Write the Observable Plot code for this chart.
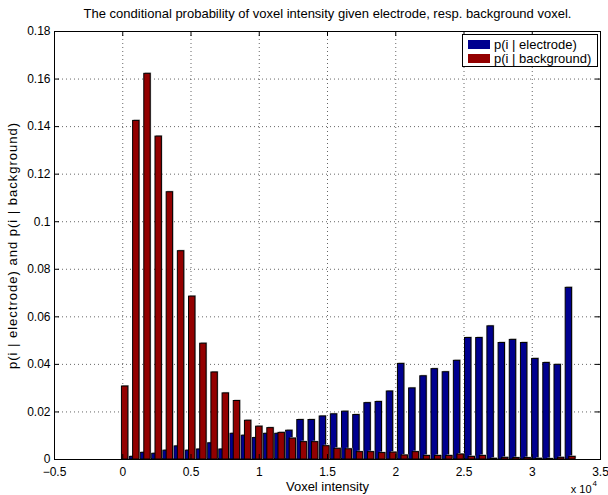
<!DOCTYPE html>
<html>
<head>
<meta charset="utf-8">
<script src="https://cdn.jsdelivr.net/npm/d3@7"></script>
<script src="https://cdn.jsdelivr.net/npm/@observablehq/plot@0.6"></script>
<style>
  body { margin: 0; background: #fff; }
  #fig { position: relative; width: 608px; height: 495px; font-family: "Liberation Sans", Arial, Helvetica, sans-serif; }
  .legend { position: absolute; left: 462px; top: 34px; width: 134px; height: 31px; border: 1px solid #000; background: #fff; font-size: 13px; color: #000; }
  .legend .row { position: absolute; left: 5px; height: 13px; display: flex; align-items: center; white-space: nowrap; }
  .legend .sw { width: 22px; height: 9px; margin-right: 4px; }
</style>
</head>
<body>
<div id="fig"></div>
<script>
// Histogram bin centres (voxel intensity)
const bins = [0, 819, 1638, 2458, 3277, 4096, 4915, 5734, 6554, 7373, 8192, 9011, 9830, 10650,
  11469, 12288, 13107, 13926, 14746, 15565, 16384, 17203, 18022, 18842, 19661, 20480, 21299,
  22118, 22938, 23757, 24576, 25395, 26214, 27034, 27853, 28672, 29491, 30310, 31130, 31949, 32768];

// p(i | electrode)
const electrode = [0, 0.0011, 0.0028, 0.0024, 0.0037, 0.0055, 0.0037, 0.0042, 0.0068, 0.0042,
  0.0108, 0.0100, 0.0090, 0.0108, 0.0108, 0.0121, 0.0166, 0.0166, 0.0181, 0.0190, 0.0201,
  0.0187, 0.0237, 0.0242, 0.0286, 0.0402, 0.0299, 0.0350, 0.0380, 0.0367, 0.0415, 0.0511,
  0.0511, 0.0560, 0.0490, 0.0503, 0.0490, 0.0423, 0.0406, 0.0398, 0.0722];

// p(i | background)
const background = [0.0307, 0.1424, 0.1622, 0.1358, 0.1124, 0.0876, 0.0685, 0.0487, 0.0366,
  0.0278, 0.0246, 0.0163, 0.0138, 0.0132, 0.0112, 0.0088, 0.0073, 0.0073, 0.0056, 0.0045,
  0.0043, 0.0031, 0.0031, 0.0027, 0.0029, 0.0017, 0.0031, 0.0015, 0.0015, 0.0015, 0.0021,
  0.0011, 0.0015, 0.0003, 0.0007, 0.0006, 0.0006, 0.0003, 0.0002, 0.0007, 0.0011];

const xTicks = [-5000, 0, 5000, 10000, 15000, 20000, 25000, 30000, 35000];
const yTicks = [0, 0.02, 0.04, 0.06, 0.08, 0.1, 0.12, 0.14, 0.16, 0.18];

const seriesNames = ["p(i | electrode)", "p(i | background)"];
const seriesColors = ["#00008f", "#930000"];

const titleText = "The conditional probability of voxel intensity given electrode, resp. background voxel.";
const xLabel = "Voxel intensity";
const yLabel = "p(i | electrode) and p(i | background)";

// Rows for the two bar series; the background bars sit slightly right of the electrode bars
const elecRows = bins.map((b, i) => ({x1: b - 320, x2: b + 150, p: electrode[i]}));
const bgRows = bins.map((b, i) => ({x1: b - 60, x2: b + 410, p: background[i]}));

const innerW = 608 - 54 - 8;
const innerH = 495 - 31 - 36;
const tickLen = 5;
const font = "Liberation Sans, Arial, Helvetica, sans-serif";

const fmtX = d => String(d / 1e4).replace("-", "\u2212");
const fmtY = d => String(+d.toFixed(2));

const barShadow = (rows) => Plot.rect(rows, {
  x1: "x1", x2: "x2", y1: 0, y2: "p", fill: "#b4b4b4", dx: 1, dy: -1,
  filter: d => d.p > 0
});
const bars = (rows, color) => Plot.rect(rows, {
  x1: "x1", x2: "x2", y1: 0, y2: "p", fill: color, stroke: "#000", strokeWidth: 1,
  filter: d => d.p > 0
});

const chart = Plot.plot({
  width: 608,
  height: 495,
  marginLeft: 54,
  marginRight: 8,
  marginTop: 31,
  marginBottom: 36,
  style: {fontFamily: font, fontSize: "12px", background: "#fff", color: "#000", overflow: "visible"},
  x: {domain: [-5000, 35000], ticks: xTicks, tickFormat: fmtX, tickSize: 0, tickPadding: 8, label: null},
  y: {domain: [0, 0.18], ticks: yTicks, tickFormat: fmtY, tickSize: 0, tickPadding: 4, label: null},
  marks: [
    // dotted grid
    Plot.ruleX(xTicks, {x: d => d, stroke: "#000", strokeOpacity: 0.6, strokeDasharray: "1,3"}),
    Plot.ruleY(yTicks, {y: d => d, stroke: "#000", strokeOpacity: 0.6, strokeDasharray: "1,3"}),
    // bars
    barShadow(elecRows),
    bars(elecRows, seriesColors[0]),
    barShadow(bgRows),
    bars(bgRows, seriesColors[1]),
    // inward ticks on all four sides
    Plot.tickX(xTicks, {x: d => d, insetTop: innerH - tickLen, stroke: "#000"}),
    Plot.tickX(xTicks, {x: d => d, insetBottom: innerH - tickLen, stroke: "#000"}),
    Plot.tickY(yTicks, {y: d => d, insetRight: innerW - tickLen, stroke: "#000"}),
    Plot.tickY(yTicks, {y: d => d, insetLeft: innerW - tickLen, stroke: "#000"}),
    Plot.frame({stroke: "#000", strokeWidth: 1}),
    // labels
    Plot.text([titleText], {frameAnchor: "top", lineAnchor: "middle", dy: -18, fontSize: 13}),
    Plot.text([xLabel], {frameAnchor: "bottom", lineAnchor: "middle", dy: 27, fontSize: 13}),
    Plot.text(["x 10"], {frameAnchor: "bottom-right", lineAnchor: "middle", dx: -9, dy: 30, textAnchor: "end", fontSize: 11}),
    Plot.text(["4"], {frameAnchor: "bottom-right", lineAnchor: "middle", dx: -8, dy: 24, textAnchor: "start", fontSize: 8}),
    Plot.text([yLabel], {frameAnchor: "left", textAnchor: "middle", lineAnchor: "middle", dx: -42, rotate: -90, fontSize: 13})
  ]
});

// the rotated y label is set a little looser
d3.select(chart).selectAll("text")
  .filter(function() { return this.textContent === yLabel; })
  .style("letter-spacing", "1px");

const fig = document.getElementById("fig");
fig.appendChild(chart);

// legend box in the upper right corner of the axes
const legend = document.createElement("div");
legend.className = "legend";
seriesNames.forEach((name, i) => {
  const row = document.createElement("div");
  row.className = "row";
  row.style.top = (3 + i * 14) + "px";
  const sw = document.createElement("div");
  sw.className = "sw";
  sw.style.background = seriesColors[i];
  const label = document.createElement("span");
  label.textContent = name;
  row.appendChild(sw);
  row.appendChild(label);
  legend.appendChild(row);
});
fig.appendChild(legend);
</script>
</body>
</html>
